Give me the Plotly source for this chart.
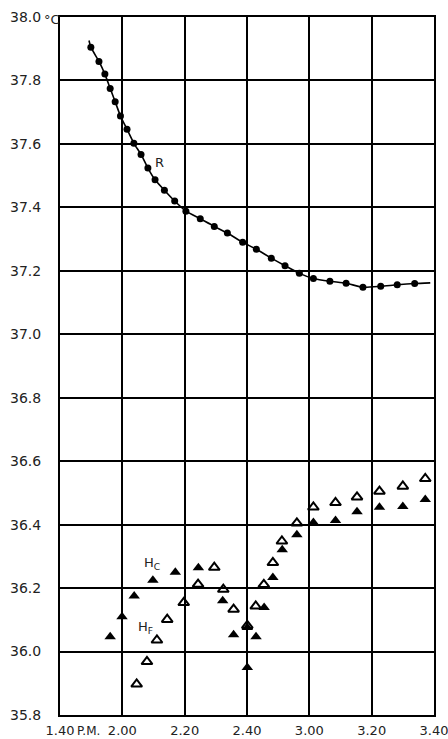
import plotly.graph_objects as go

# time in minutes after 1.40 P.M.
r_time = [9.9, 12.5, 14.4, 16.1, 17.7, 19.4, 21.5, 23.7, 26.0, 28.2, 30.5, 33.5, 36.8,
          40.4, 45.0, 49.5, 53.7, 58.6, 63.0, 67.8, 72.2, 76.8, 81.3, 86.6, 91.8, 97.2,
          102.9, 108.2, 113.8]
r_temp = [37.905, 37.860, 37.820, 37.775, 37.733, 37.688, 37.646, 37.602, 37.567, 37.524,
          37.487, 37.454, 37.420, 37.388, 37.364, 37.340, 37.319, 37.290, 37.268, 37.240,
          37.216, 37.192, 37.176, 37.167, 37.161, 37.148, 37.151, 37.156, 37.160]
# curve drawn slightly beyond first and last readings
r_curve_start = (9.3, 37.926)
r_curve_end = (118.8, 37.162)

hc_time = [16.1, 19.9, 23.8, 29.8, 37.0, 44.4, 52.2, 55.7, 60.1, 60.1, 62.9, 65.5, 68.3,
           71.3, 76.0, 81.3, 88.4, 95.3, 102.5, 110.0, 117.2]
hc_temp = [36.047, 36.110, 36.175, 36.225, 36.250, 36.264, 36.160, 36.053, 36.076, 35.950,
           36.047, 36.139, 36.233, 36.321, 36.368, 36.407, 36.413, 36.441, 36.455, 36.457,
           36.479]

hf_time = [24.6, 27.9, 31.1, 34.4, 39.7, 44.3, 49.5, 52.4, 55.7, 60.1, 62.8, 65.4, 68.3,
           71.2, 76.0, 81.3, 88.4, 95.3, 102.5, 110.0, 117.2]
hf_temp = [35.897, 35.968, 36.036, 36.101, 36.154, 36.212, 36.265, 36.196, 36.133, 36.082,
           36.143, 36.211, 36.280, 36.348, 36.405, 36.455, 36.469, 36.487, 36.505, 36.521,
           36.545]

x_tick_vals = [0, 20, 40, 60, 80, 100, 120]
x_tick_text = ["1.40", "2.00", "2.20", "2.40", "3.00", "3.20", "3.40"]
y_tick_vals = [35.8, 36.0, 36.2, 36.4, 36.6, 36.8, 37.0, 37.2, 37.4, 37.6, 37.8, 38.0]
y_tick_text = ["35.8", "36.0", "36.2", "36.4", "36.6", "36.8", "37.0", "37.2", "37.4",
               "37.6", "37.8", "38.0"]

FONT = "DejaVu Sans"
TXT = "#222"

fig = go.Figure()
fig.add_trace(go.Scatter(
    x=[r_curve_start[0]] + r_time + [r_curve_end[0]],
    y=[r_curve_start[1]] + r_temp + [r_curve_end[1]],
    mode="lines", line=dict(color="black", width=1.6, shape="spline", smoothing=0.6),
    hoverinfo="skip", showlegend=False))
fig.add_trace(go.Scatter(
    x=r_time, y=r_temp, mode="markers",
    marker=dict(symbol="circle", size=7, color="black"), showlegend=False))
fig.add_trace(go.Scatter(
    x=hf_time, y=hf_temp, mode="markers",
    marker=dict(symbol="triangle-up-open", size=9.5, color="black", line=dict(width=2, color="black")),
    showlegend=False))
fig.add_trace(go.Scatter(
    x=hc_time, y=hc_temp, mode="markers",
    marker=dict(symbol="triangle-up", size=10, color="black"), showlegend=False))

fig.add_annotation(x=31.8, y=37.54, text="R", showarrow=False,
                   font=dict(family=FONT, size=13, color=TXT))
fig.add_annotation(x=29.4, y=36.278, text="H<sub>C</sub>", showarrow=False,
                   font=dict(family=FONT, size=13, color=TXT))
fig.add_annotation(x=27.5, y=36.075, text="H<sub>F</sub>", showarrow=False,
                   font=dict(family=FONT, size=13, color=TXT))
# unit and P.M. labels placed next to the tick labels
fig.add_annotation(x=0, y=1.0, xref="paper", yref="paper", xanchor="left", yanchor="middle",
                   text="°C", showarrow=False, xshift=-18, yshift=-2,
                   font=dict(family=FONT, size=13, color=TXT))
fig.add_annotation(x=0, y=0, xref="paper", yref="paper", xanchor="left", yanchor="middle",
                   text="P.M.", showarrow=False, xshift=15, yshift=-16,
                   font=dict(family=FONT, size=12, color=TXT))

fig.update_layout(
    width=448, height=739,
    margin=dict(l=60, r=14, t=17, b=24, autoexpand=False),
    paper_bgcolor="white", plot_bgcolor="white",
    font=dict(family=FONT, size=14, color=TXT),
    xaxis=dict(range=[0, 120], tickvals=x_tick_vals, ticktext=x_tick_text,
               showgrid=True, gridcolor="black", gridwidth=1.8, zeroline=False,
               showline=True, linecolor="black", linewidth=2, mirror=True,
               ticks="", ticklabelstandoff=2, fixedrange=True, automargin=False,
               ticklabeloverflow="allow",
               tickfont=dict(family=FONT, size=13, color=TXT)),
    yaxis=dict(range=[35.8, 38.0], tickvals=y_tick_vals, ticktext=y_tick_text,
               showgrid=True, gridcolor="black", gridwidth=1.8, zeroline=False,
               showline=True, linecolor="black", linewidth=2, mirror=True,
               ticks="", ticklabelstandoff=14, fixedrange=True, automargin=False,
               ticklabeloverflow="allow",
               tickfont=dict(family=FONT, size=14, color=TXT)),
)

fig.write_html("out.html", config={"displayModeBar": False},
               post_script="document.body.style.margin='0';")
